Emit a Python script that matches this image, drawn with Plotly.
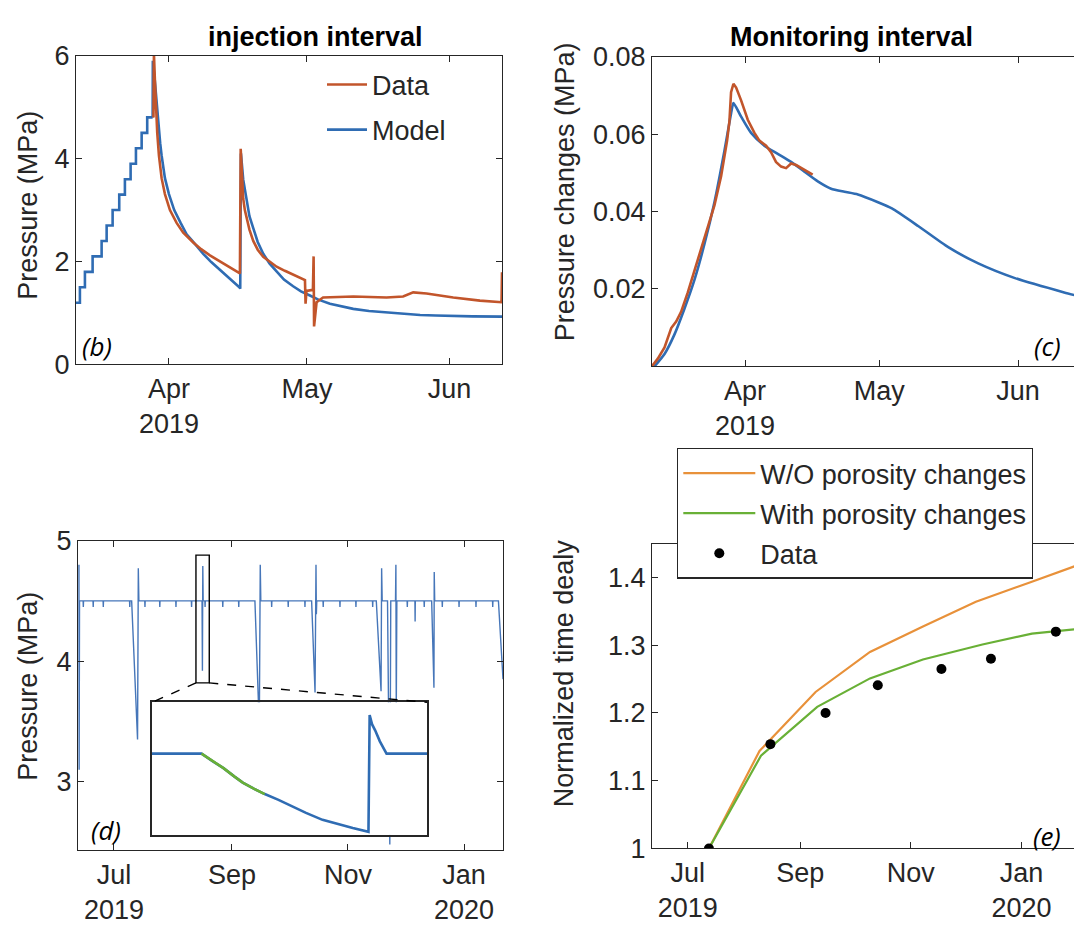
import pandas as pd
import plotly.graph_objects as go

W, H = 1074, 939
FONT = "Liberation Sans, Arial, Helvetica, sans-serif"
AX = "#262626"
RED = "#C2552B"
BLUE = "#2F6CB3"
BLUE_D = "#4676B9"
ORANGE = "#E8913A"
GREEN = "#69B036"

APR1 = pd.Timestamp("2019-04-01")
JUL1 = pd.Timestamp("2019-07-01")


def dates(base, days):
    return [base + pd.Timedelta(days=float(d)) for d in days]


# ---------------- Panel (b): injection interval (days from 2019-04-01) ----------------
b_ramp_days = [-20.2, -19.35, -18.26, -16.59, -14.63, -13.54, -12.24, -10.8, -9.57,
               -8.33, -7.17, -5.93, -4.72, -3.54]
b_ramp_vals = [1.2, 1.5, 1.8, 2.1, 2.4, 2.7, 3.0, 3.3, 3.6, 3.9, 4.2, 4.5, 4.8, 4.8]

b_model_days = [-3.54, -3.5, -3.1, -2.7, -2.3, -1.9, -1.59, -0.87, 0.0, 1.15, 2.54, 3.85,
                5.28, 7.46, 9.2, 11.1, 13.2, 15.43, 15.5, 15.65, 16.15, 16.89, 17.5, 18.33,
                19.3, 20.5, 21.9, 23.4, 25.0, 27.0, 28.7, 30.65, 32.5, 35.0, 37.5, 40.07,
                43.5, 47.3, 50.9, 54.6, 58.0, 61.8, 66.0, 72.4]
b_model_vals = [4.8, 5.9, 5.55, 5.1, 4.65, 4.3, 4.06, 3.62, 3.31, 3.0, 2.75, 2.53,
                2.38, 2.15, 1.99, 1.84, 1.66, 1.49, 1.47, 4.1, 3.59, 3.15, 2.88, 2.65,
                2.38, 2.15, 1.96, 1.81, 1.65, 1.52, 1.42, 1.34, 1.26, 1.18, 1.13, 1.08,
                1.04, 1.01, 0.985, 0.96, 0.95, 0.94, 0.935, 0.93]

b_data_days = [-3.36, -3.26, -3.04, -2.83, -2.54, -2.17, -1.59, -0.87, 0.22, 1.67, 3.11,
               5.28, 7.0, 8.91, 10.7, 12.54, 14.0, 15.43, 15.6, 15.9, 16.15, 16.5, 16.89,
               17.5, 18.33, 19.3, 20.5, 21.9, 23.4, 25.2, 27.0, 28.3, 29.57, 29.7, 29.9,
               31.3, 31.45, 31.55, 32.1, 33.5, 40.1, 47.3, 50.9, 53.1, 56.0, 61.8, 67.6,
               72.3, 72.4]
b_data_vals = [4.8, 6.04, 5.5, 5.0, 4.5, 4.06, 3.62, 3.31, 3.0, 2.75, 2.56,
               2.37, 2.24, 2.12, 2.02, 1.93, 1.85, 1.77, 4.19, 3.5, 3.22, 3.0, 2.84,
               2.62, 2.4, 2.23, 2.09, 1.99, 1.9, 1.82, 1.74, 1.69, 1.64, 1.18, 1.43,
               1.45, 2.1, 0.74, 1.21, 1.3, 1.32, 1.3, 1.32, 1.4, 1.38, 1.3, 1.24,
               1.21, 1.79]

# ---------------- Panel (c): monitoring interval (days from 2019-04-01) ----------------
c_model_days = [-20.25, -18.0, -15.8, -13.55, -11.3, -9.08, -6.85, -4.61, -3.13, -2.6,
                -0.89, 1.34, 4.32, 7.3, 10.28, 13.26, 16.24, 19.22, 22.2, 25.2, 29.7,
                32.8, 38.75, 45.4, 52.1, 60.3, 71.3, 74.0]
c_model_vals = [0.0, 0.0032, 0.0082, 0.0149, 0.0224, 0.0316, 0.0424, 0.0557, 0.0653, 0.068,
                0.0645, 0.0603, 0.057, 0.0549, 0.0528, 0.0503, 0.0478, 0.0459, 0.0451,
                0.0444, 0.0424, 0.0408, 0.0362, 0.0308, 0.0266, 0.0228, 0.0191, 0.0183]

c_data_days = [-20.85, -19.5, -18.0, -16.5, -15.4, -14.3, -12.8, -11.3, -9.8, -8.3, -6.85,
               -5.36, -4.02, -3.5, -3.13, -2.6, -2.0, -0.89, 0.6, 2.09, 3.2, 4.7, 5.8, 6.9,
               8.05, 9.16, 10.28, 11.4, 12.9, 15.1]
c_data_vals = [0.0, 0.002, 0.0049, 0.0099, 0.0116, 0.0141, 0.0191, 0.0249, 0.0308, 0.0366,
               0.0416, 0.0491, 0.0583, 0.0633, 0.0708, 0.073, 0.072, 0.0687, 0.0637, 0.0603,
               0.0583, 0.057, 0.0553, 0.0528, 0.0516, 0.0512, 0.0524, 0.052, 0.0509, 0.0495]

# ---------------- Panel (d): long-term pressure (days from 2019-07-01) ----------------
d_baseline = 4.5
d_start = [(-18.4, 4.8), (-18.3, 3.1), (-18.1, 4.5)]
d_dip_days = [-16.1, -10.9, -5.6, 8.3, 16.3, 24.1, 32.6, 40.8, 47.9, 57.2, 65.6, 82.9, 91.6,
              100.4, 110.0, 118.8, 127.2, 136.0, 154.2, 158.3, 163.1, 172.6, 181.4, 190.3,
              199.1]
d_dip_vals = [4.45, 4.45, 4.45, 4.45, 4.45, 4.45, 4.45, 4.45, 4.45, 4.45, 4.45, 4.45, 4.45,
              4.45, 4.45, 4.45, 4.45, 4.45, 4.45, 4.33, 4.45, 4.45, 4.45, 4.45, 4.45]
d_events = [
    [(9.3, 4.5), (12.4, 3.35), (12.8, 4.77), (13.1, 4.5)],
    [(46.3, 4.5), (46.5, 3.92), (46.7, 4.79), (46.9, 4.5)],
    [(74.1, 4.5), (76.4, 3.45), (76.9, 4.8), (77.2, 4.5)],
    [(103.9, 4.5), (105.7, 3.74), (106.2, 4.8), (106.4, 4.39), (106.6, 4.5)],
    [(137.9, 4.5), (140.4, 3.75), (140.7, 4.77), (141.0, 4.5)],
    [(143.8, 4.5), (145.0, 2.48), (145.5, 4.5), (148.0, 4.5), (148.2, 4.8), (148.4, 3.6),
     (148.7, 4.5)],
    [(167.0, 4.5), (168.2, 3.78), (168.35, 4.74), (168.6, 4.5)],
]
d_end = [(202.1, 4.5), (204.5, 3.85)]

# inset (zoom of one shut-in), days from 2019-07-01
inset_x_range = [43.1, 50.1]
inset_y_range = [3.838, 4.918]
inset_days = [43.1, 44.36, 44.64, 44.92, 45.2, 45.41, 45.69, 45.97, 46.32, 46.6, 47.02,
              47.44, 47.86, 48.21, 48.61, 48.64, 48.7, 48.78, 48.9, 49.07, 50.1]
inset_vals = [4.5, 4.5, 4.439, 4.382, 4.313, 4.264, 4.215, 4.171, 4.124, 4.079, 4.018,
              3.961, 3.923, 3.895, 3.864, 4.815, 4.74, 4.69, 4.6, 4.5, 4.5]
inset_green_days = [44.36, 44.64, 44.92, 45.2, 45.41, 45.69, 45.97]
inset_green_vals = [4.5, 4.439, 4.382, 4.313, 4.264, 4.215, 4.171]

# ---------------- Panel (e): normalized time delay (days from 2019-07-01) ----------------
e_wo_days = [11.7, 39.6, 70.5, 100.5, 130.0, 158.9, 189.0, 215.0]
e_wo_vals = [1.0, 1.144, 1.231, 1.29, 1.328, 1.364, 1.393, 1.418]
e_with_days = [11.7, 40.4, 71.4, 100.5, 129.7, 162.5, 189.8, 215.0]
e_with_vals = [1.0, 1.137, 1.209, 1.251, 1.279, 1.301, 1.317, 1.324]
e_data_days = [11.7, 45.6, 76.0, 104.8, 139.9, 167.2, 203.0]
e_data_vals = [1.0, 1.154, 1.2, 1.241, 1.265, 1.28, 1.32]

# ---------------- layout geometry (pixels) ----------------
B_DOM = ([76, 502], [42, 361])
C_DOM = ([652, 1074], [43, 363])
D_DOM = ([78, 503], [543, 863])
E_DOM = ([652, 1074], [546, 861])
I_DOM = ([152, 427], [710, 847])

b_xr = [-20.2, 72.4]
c_xr = [-20.8, 73.5]
d_xr = [-18.9, 204.5]
e_xr = [-19.7, 213.0]
d_yr = [2.43, 5.0]


def xd(px):
    return [px[0] / W, px[1] / W]


def yd(py):
    return [1 - py[1] / H, 1 - py[0] / H]


# build (d) polyline
d_segments = [d_start]
for t, v in zip(d_dip_days, d_dip_vals):
    d_segments.append([(t - 0.1, d_baseline), (t, v), (t + 0.1, d_baseline)])
d_segments += d_events
d_segments.sort(key=lambda s: s[0][0])
d_segments.append(d_end)
d_days, d_vals = [], []
for seg in d_segments:
    for t, v in seg:
        d_days.append(t)
        d_vals.append(v)

fig = go.Figure()

# (b)
fig.add_trace(go.Scatter(x=dates(APR1, b_ramp_days), y=b_ramp_vals, mode="lines",
                         line=dict(color=BLUE, width=2.6, shape="hv"), showlegend=False,
                         legendgroup="model", xaxis="x", yaxis="y"))
fig.add_trace(go.Scatter(x=dates(APR1, b_model_days), y=b_model_vals, mode="lines",
                         line=dict(color=BLUE, width=2.6), name="Model", legendrank=2,
                         legendgroup="model", xaxis="x", yaxis="y"))
fig.add_trace(go.Scatter(x=dates(APR1, b_data_days), y=b_data_vals, mode="lines",
                         line=dict(color=RED, width=2.6), name="Data", legendrank=1,
                         legendgroup="data", xaxis="x", yaxis="y"))
# (c)
fig.add_trace(go.Scatter(x=dates(APR1, c_model_days), y=c_model_vals, mode="lines",
                         line=dict(color=BLUE, width=2.6, shape="spline", smoothing=0.6),
                         showlegend=False, xaxis="x2", yaxis="y2"))
fig.add_trace(go.Scatter(x=dates(APR1, c_data_days), y=c_data_vals, mode="lines",
                         line=dict(color=RED, width=2.6), showlegend=False,
                         xaxis="x2", yaxis="y2"))
# (d)
fig.add_trace(go.Scatter(x=dates(JUL1, d_days), y=d_vals, mode="lines",
                         line=dict(color=BLUE_D, width=1.4), showlegend=False,
                         xaxis="x3", yaxis="y3"))
# inset
fig.add_trace(go.Scatter(x=dates(JUL1, inset_days), y=inset_vals, mode="lines",
                         line=dict(color=BLUE, width=2.6), showlegend=False,
                         xaxis="x5", yaxis="y5"))
fig.add_trace(go.Scatter(x=dates(JUL1, inset_green_days), y=inset_green_vals, mode="lines",
                         line=dict(color=GREEN, width=2.6), showlegend=False,
                         xaxis="x5", yaxis="y5"))
# (e)
fig.add_trace(go.Scatter(x=dates(JUL1, e_wo_days), y=e_wo_vals, mode="lines",
                         line=dict(color=ORANGE, width=2.2), name="W/O porosity changes",
                         legend="legend2", legendgroup="wo", legendrank=1,
                         xaxis="x4", yaxis="y4"))
fig.add_trace(go.Scatter(x=dates(JUL1, e_with_days), y=e_with_vals, mode="lines",
                         line=dict(color=GREEN, width=2.2), name="With porosity changes",
                         legend="legend2", legendgroup="with", legendrank=2,
                         xaxis="x4", yaxis="y4"))
fig.add_trace(go.Scatter(x=dates(JUL1, e_data_days), y=e_data_vals, mode="markers",
                         marker=dict(color="black", size=10), name="Data",
                         legend="legend2", legendgroup="edata", legendrank=3,
                         xaxis="x4", yaxis="y4"))


def axstyle(**kw):
    base = dict(showline=True, linecolor=AX, linewidth=1.3, mirror="ticks", ticks="inside",
                ticklen=6, tickwidth=1.2, tickcolor=AX,
                tickfont=dict(family=FONT, size=27, color=AX),
                showgrid=False, zeroline=False, fixedrange=True)
    base.update(kw)
    return base


def drange(base, r):
    return [str(base + pd.Timedelta(days=r[0])), str(base + pd.Timedelta(days=r[1]))]


spring_ticks = [APR1, pd.Timestamp("2019-05-01"), pd.Timestamp("2019-06-01")]
spring_text = ["Apr<br>2019", "May", "Jun"]
fall_ticks = [JUL1, pd.Timestamp("2019-09-01"), pd.Timestamp("2019-11-01"),
              pd.Timestamp("2020-01-01")]
fall_text = ["Jul<br>2019", "Sep", "Nov", "Jan<br>2020"]

layout = dict(
    width=W, height=H, margin=dict(l=0, r=0, t=0, b=0),
    paper_bgcolor="white", plot_bgcolor="white",
    font=dict(family=FONT, size=27, color=AX),
    xaxis=axstyle(domain=xd(B_DOM[0]), anchor="y", type="date", range=drange(APR1, b_xr),
                  tickvals=spring_ticks, ticktext=spring_text),
    yaxis=axstyle(domain=yd(B_DOM[1]), anchor="x", range=[0, 6], tickvals=[0, 2, 4, 6]),
    xaxis2=axstyle(domain=xd(C_DOM[0]), anchor="y2", type="date", range=drange(APR1, c_xr),
                   tickvals=spring_ticks, ticktext=spring_text),
    yaxis2=axstyle(domain=yd(C_DOM[1]), anchor="x2", range=[0, 0.08], mirror=False,
                   tickvals=[0.02, 0.04, 0.06, 0.08],
                   ticktext=["0.02", "0.04", "0.06", "0.08"]),
    xaxis3=axstyle(domain=xd(D_DOM[0]), anchor="y3", type="date", range=drange(JUL1, d_xr),
                   tickvals=fall_ticks, ticktext=fall_text),
    yaxis3=axstyle(domain=yd(D_DOM[1]), anchor="x3", range=d_yr, tickvals=[3, 4, 5]),
    xaxis4=axstyle(domain=xd(E_DOM[0]), anchor="y4", type="date", range=drange(JUL1, e_xr),
                   tickvals=fall_ticks, ticktext=fall_text),
    yaxis4=axstyle(domain=yd(E_DOM[1]), anchor="x4", range=[1, 1.45], mirror=False,
                   tickvals=[1, 1.1, 1.2, 1.3, 1.4],
                   ticktext=["1", "1.1", "1.2", "1.3", "1.4"]),
    xaxis5=dict(domain=xd(I_DOM[0]), anchor="y5", type="date",
                range=drange(JUL1, inset_x_range), showline=True, mirror=True,
                linecolor=AX, linewidth=1.5, ticks="", showticklabels=False,
                showgrid=False, zeroline=False, fixedrange=True),
    yaxis5=dict(domain=yd(I_DOM[1]), anchor="x5", range=inset_y_range, showline=True,
                mirror=True, linecolor=AX, linewidth=1.5, ticks="", showticklabels=False,
                showgrid=False, zeroline=False, fixedrange=True),
    legend=dict(x=322 / W, y=1 - 47 / H, xanchor="left", yanchor="top",
                bgcolor="rgba(0,0,0,0)", borderwidth=0, itemwidth=40,
                font=dict(family=FONT, size=27, color=AX), tracegroupgap=7),
    legend2=dict(x=677 / W, y=1 - 447 / H, xanchor="left", yanchor="top",
                 bgcolor="white", bordercolor=AX, borderwidth=1.3, itemwidth=72,
                 font=dict(family=FONT, size=27, color=AX), tracegroupgap=2),
    showlegend=True,
)
fig.update_layout(**layout)

# zoom box and dashed connectors in panel (d)
d_dx = D_DOM[0][1] - D_DOM[0][0]
d_dy = D_DOM[1][1] - D_DOM[1][0]
inset_left_day = d_xr[0] + (I_DOM[0][0] - D_DOM[0][0]) / d_dx * (d_xr[1] - d_xr[0])
inset_right_day = d_xr[0] + (I_DOM[0][1] - D_DOM[0][0]) / d_dx * (d_xr[1] - d_xr[0])
inset_top_val = d_yr[0] + (D_DOM[1][1] - I_DOM[1][0]) / d_dy * (d_yr[1] - d_yr[0])
box_x0 = JUL1 + pd.Timedelta(days=inset_x_range[0])
box_x1 = JUL1 + pd.Timedelta(days=inset_x_range[1])
box_y0, box_y1 = 3.82, 4.88
fig.add_shape(type="rect", xref="x3", yref="y3", x0=box_x0, x1=box_x1,
              y0=box_y0, y1=box_y1,
              line=dict(color="black", width=1.4), layer="above")
fig.add_shape(type="line", xref="x3", yref="y3", x0=box_x0, y0=box_y0,
              x1=JUL1 + pd.Timedelta(days=inset_left_day), y1=inset_top_val,
              line=dict(color="black", width=1.4, dash="dash"), layer="above")
fig.add_shape(type="line", xref="x3", yref="y3", x0=box_x1, y0=box_y0,
              x1=JUL1 + pd.Timedelta(days=inset_right_day), y1=inset_top_val,
              line=dict(color="black", width=1.4, dash="dash"), layer="above")

# titles
fig.add_annotation(text="<b>injection interval</b>", x=315 / W, y=1 - 23 / H, xref="paper",
                   yref="paper", showarrow=False, xanchor="center", yanchor="middle",
                   font=dict(family=FONT, size=27, color="black"))
fig.add_annotation(text="<b>Monitoring interval</b>", x=851 / W, y=1 - 23 / H, xref="paper",
                   yref="paper", showarrow=False, xanchor="center", yanchor="middle",
                   font=dict(family=FONT, size=27, color="black"))

# axis titles
for txt, px, py in [("Pressure (MPa)", 28, 197), ("Pressure changes (MPa)", 565, 183),
                    ("Pressure (MPa)", 28, 694), ("Normalized time dealy", 564, 680)]:
    fig.add_annotation(text=txt, x=px / W, y=1 - py / H, xref="paper", yref="paper",
                       showarrow=False, textangle=-90, xanchor="center", yanchor="middle",
                       font=dict(family=FONT, size=27, color=AX))

# panel labels
for txt, px, py, anc in [("(b)", 80, 342, "left"), ("(c)", 1063, 342, "right"),
                         ("(d)", 89, 842, "left"), ("(e)", 1063, 848, "right")]:
    fig.add_annotation(text="<i>" + txt + "</i>", x=px / W, y=1 - py / H, xref="paper",
                       yref="paper", showarrow=False, xanchor=anc, yanchor="middle",
                       font=dict(family="Open Sans, DejaVu Sans, sans-serif", size=26,
                                 color="black"))

fig.write_html("out.html")
